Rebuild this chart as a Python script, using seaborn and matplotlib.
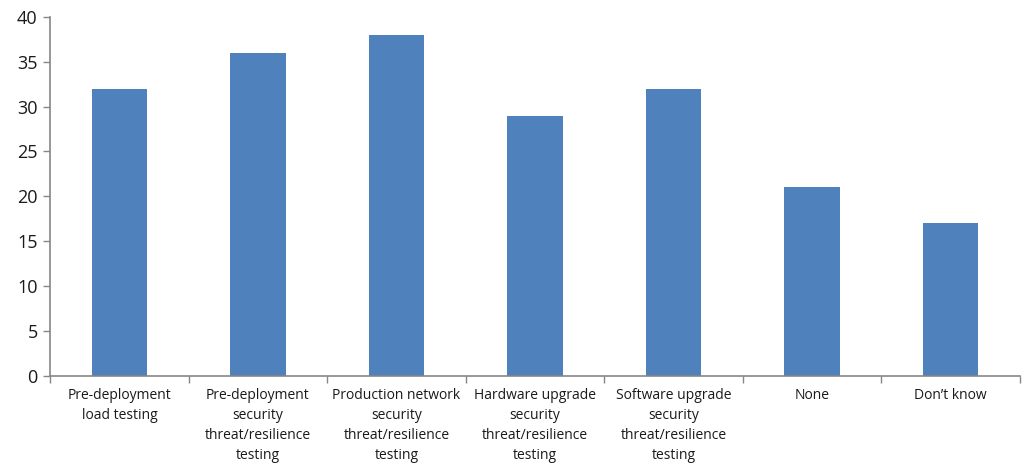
import matplotlib
matplotlib.use("Agg")
import matplotlib.pyplot as plt
from matplotlib.ticker import FixedLocator, NullFormatter
import seaborn as sns
import pandas as pd

categories = [
    "Pre-deployment\nload testing",
    "Pre-deployment\nsecurity\nthreat/resilience\ntesting",
    "Production network\nsecurity\nthreat/resilience\ntesting",
    "Hardware upgrade\nsecurity\nthreat/resilience\ntesting",
    "Software upgrade\nsecurity\nthreat/resilience\ntesting",
    "None",
    "Don\u2019t know",
]
values = [32, 36, 38, 29, 32, 21, 17]
y_ticks = [0, 5, 10, 15, 20, 25, 30, 35, 40]

sns.set_theme(style="white")
plt.rcParams["font.family"] = ["Open Sans", "DejaVu Sans"]

df = pd.DataFrame({"category": categories, "value": values})

fig = plt.figure(figsize=(10.23, 4.68), dpi=100)
ax = fig.add_axes([0.049, 0.197, 0.948, 0.767])

sns.barplot(data=df, x="category", y="value", color="#4F81BD",
            saturation=1, width=0.4, linewidth=0, ax=ax)

axis_color = "#868686"
ax.set_xlim(-0.5, len(categories) - 0.5)
ax.set_ylim(0, 40)
ax.set_yticks(y_ticks)
ax.set_xlabel("")
ax.set_ylabel("")

# category labels on minor ticks, tick marks on boundaries between categories
ax.xaxis.set_major_locator(FixedLocator([i - 0.5 for i in range(len(categories) + 1)]))
ax.xaxis.set_major_formatter(NullFormatter())
ax.xaxis.set_minor_locator(FixedLocator(list(range(len(categories)))))
ax.set_xticklabels(categories, minor=True, fontsize=10, linespacing=1.45,
                   color="#1a1a1a")
ax.tick_params(axis="x", which="minor", length=0, pad=9)
ax.tick_params(axis="x", which="major", length=5, width=1, color=axis_color,
               direction="out", bottom=True)
ax.tick_params(axis="y", length=5, width=1, color=axis_color, direction="out",
               left=True, labelsize=13, labelcolor="#1a1a1a", pad=4)

for side in ["top", "right"]:
    ax.spines[side].set_visible(False)
for side in ["left", "bottom"]:
    ax.spines[side].set_color(axis_color)
    ax.spines[side].set_linewidth(1.2)

fig.savefig("out.png", dpi=100)
